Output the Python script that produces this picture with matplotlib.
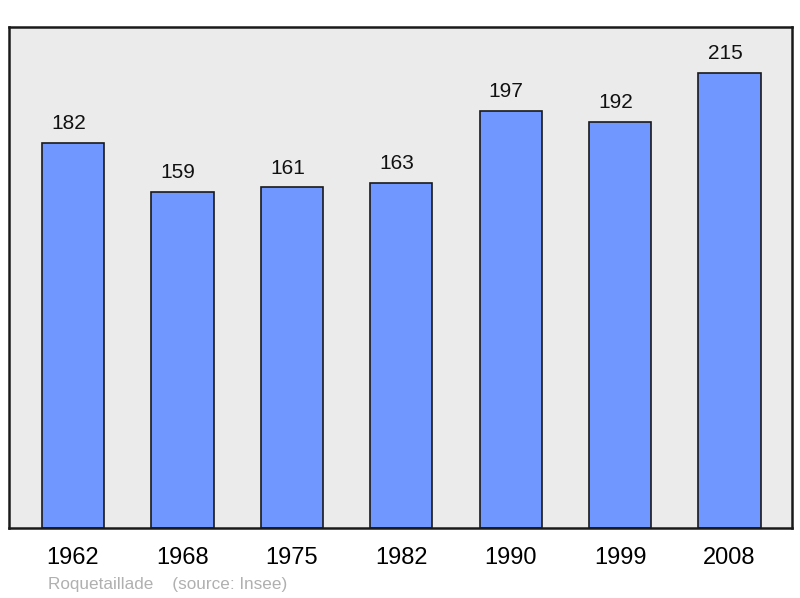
import matplotlib.pyplot as plt

years = ['1962', '1968', '1975', '1982', '1990', '1999', '2008']
population = [182, 159, 161, 163, 197, 192, 215]

plt.rcParams['font.family'] = ['Liberation Sans', 'DejaVu Sans']

fig = plt.figure(figsize=(8, 5.98), dpi=100)
ax = fig.add_axes([9 / 800, 1 - 528 / 598, 783 / 800, 501 / 598])
ax.set_facecolor('#ebebeb')

x = range(len(years))
ax.bar(x, population, width=0.57, color='#7096ff', edgecolor='#1a1a1a', linewidth=1.2, zorder=2)
# value labels sit a bit left of the bar centre, like the original
for xi, v in zip(x, population):
    ax.text(xi - 0.04, v + 6.5, str(v), ha='center', va='baseline', fontsize=15, color='#111111')

ax.set_xlim(-0.585, 6.571)
ax.set_ylim(0, 236.8)
ax.set_yticks([])
ax.set_xticks(list(x))
ax.set_xticklabels(years, fontsize=17)
ax.tick_params(axis='x', length=0, pad=14)
for s in ax.spines.values():
    s.set_linewidth(1.8)
    s.set_color('#1a1a1a')

fig.text(48 / 800, 1 - 584 / 598, 'Roquetaillade    (source: Insee)', fontsize=12.3,
         color='#b0b0b0', ha='left', va='center')

fig.savefig('out.png', dpi=100)
